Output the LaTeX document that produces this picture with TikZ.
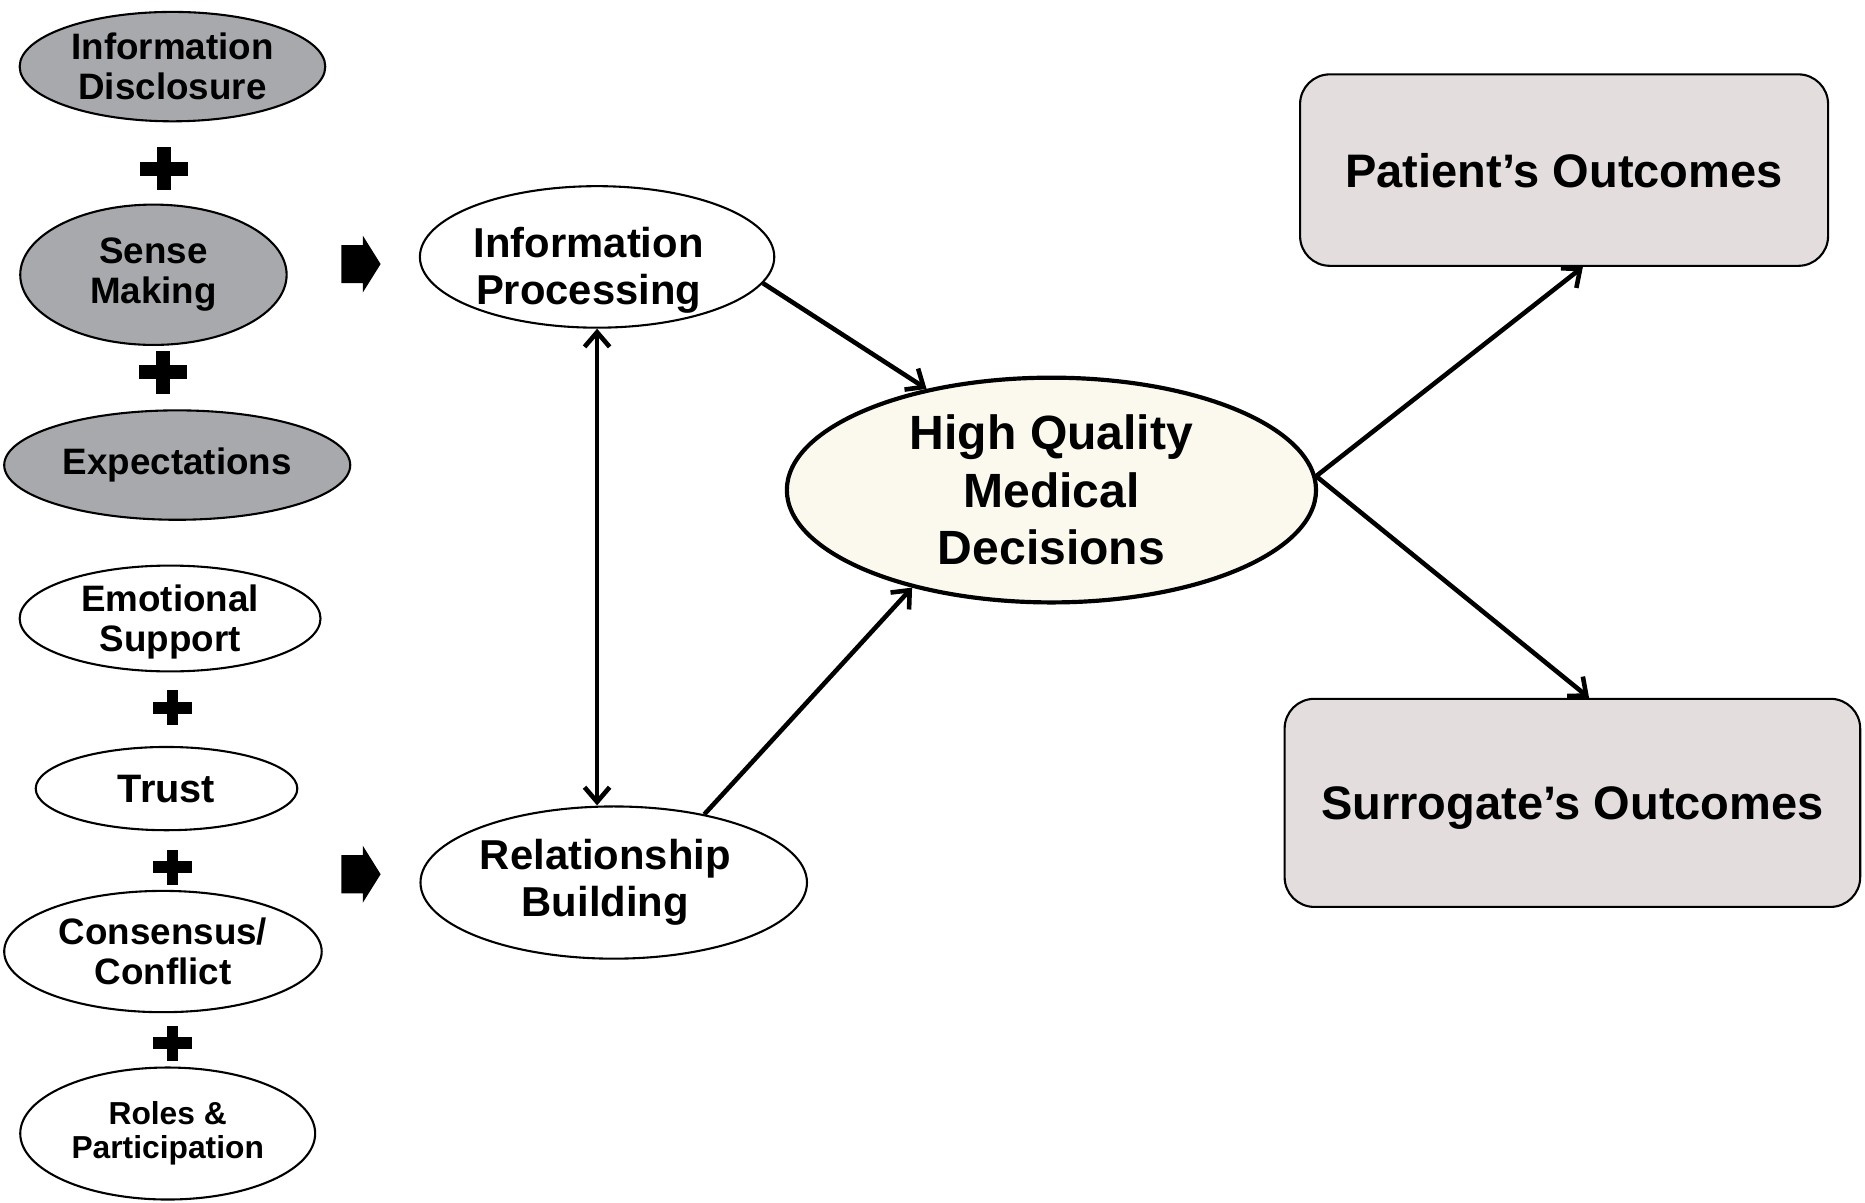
\documentclass[tikz,border=0pt]{standalone}
\usepackage{fontspec}
\setmainfont{Liberation Sans}
\usetikzlibrary{shapes.geometric,arrows.meta}

\definecolor{factorgray}{RGB}{167,169,172}
\definecolor{outcomefill}{RGB}{227,221,222}
\definecolor{decisionfill}{RGB}{251,249,237}

\tikzset{
    factor/.style={ellipse, draw=black, line width=1pt, inner sep=0pt, align=center,
        font=\bfseries\fontsize{17.6}{19}\selectfont},
    grayfactor/.style={factor, fill=factorgray},
    process/.style={ellipse, draw=black, line width=1pt, inner sep=0pt, align=center,
        font=\bfseries\fontsize{20}{22.5}\selectfont},
    decision/.style={ellipse, draw=black, line width=2pt, fill=decisionfill, inner sep=0pt,
        align=center, font=\bfseries\fontsize{23}{27.6}\selectfont},
    outcome/.style={rectangle, rounded corners=0.5cm, draw=black, line width=1pt,
        fill=outcomefill, font=\bfseries\fontsize{22.5}{27}\selectfont},
    conn/.style={line width=2.2pt, -{Straight Barb[length=7pt,width=12pt]}},
    biconn/.style={line width=2.2pt, {Straight Barb[length=7pt,width=12pt]}-{Straight Barb[length=7pt,width=12pt]}},
}

\begin{document}
\begin{tikzpicture}[x=0.02cm, y=-0.02cm]
    \useasboundingbox (0,0) rectangle (1568,1011);

    % information side
    \node [grayfactor, minimum width=5.14cm, minimum height=1.84cm] (infodisc) at (145,56) {Information\\Disclosure};
    \node [grayfactor, minimum width=4.48cm, minimum height=2.36cm] (sensemaking) at (129,231) {Sense\\Making};
    \node [grayfactor, minimum width=5.82cm, minimum height=1.84cm] (expect) at (149,391) {Expectations};

    % relationship side
    \node [factor, minimum width=5.06cm, minimum height=1.78cm, text depth=-1pt] (emotional) at (143,520) {Emotional\\Support};
    \node [factor, minimum width=4.4cm, minimum height=1.4cm, font=\bfseries\fontsize{19}{21}\selectfont] (trust) at (140,663) {Trust};
    \node [factor, minimum width=5.34cm, minimum height=2.04cm] (consensus) at (137,800) {Consensus/\\Conflict};
    \node [factor, minimum width=4.96cm, minimum height=2.22cm, font=\bfseries\fontsize{15.2}{16.5}\selectfont] (roles) at (141,953) {Roles \&\\Participation};

    \foreach \px/\py/\ps in {138/142/1, 137/313/1, 145/595/0.82, 145/729/0.82, 145/877/0.82} {
        \fill (\px-20*\ps,\py-6*\ps) rectangle (\px+20*\ps,\py+6*\ps);
        \fill (\px-6*\ps,\py-18*\ps) rectangle (\px+6*\ps,\py+18*\ps);
    }
    \foreach \ay in {222,735} {
        \fill (287,\ay-16) -- (305,\ay-16) -- (305,\ay-24) -- (320,\ay) -- (305,\ay+24) -- (305,\ay+16) -- (287,\ay+16) -- cycle;
    }

    \node [process, minimum width=5.96cm, minimum height=2.38cm] (infoproc) at (502,216)
        {\raisebox{-7pt}[\height][\depth]{\begin{tabular}{@{}c@{\hspace{8pt}}}Information\\Processing\end{tabular}}};
    \node [process, minimum width=6.5cm, minimum height=2.56cm] (relbuild) at (516,742) {Relationship\hspace*{8pt}\\Building\hspace*{8pt}};
    \node [decision, minimum width=8.9cm, minimum height=3.78cm] (hq) at (884,412) {High Quality\\Medical\\Decisions};

    \node [outcome, minimum width=8.88cm, minimum height=3.22cm, text depth=-2.3pt] (patient) at (1315,143) {Patient’s Outcomes};
    \node [outcome, minimum width=9.68cm, minimum height=3.5cm, text depth=-2.1pt] (surrogate) at (1322,675) {Surrogate’s Outcomes};

    \draw [biconn] (infoproc.south) -- (infoproc.south |- relbuild.north);
    \draw [conn] (infoproc.-9) -- (hq.141);
    \draw [conn] (relbuild.37) -- (hq.215);
    \draw [conn] (hq.3) -- (patient.-79);
    \draw [conn] (hq.3) -- (surrogate.81);
\end{tikzpicture}
\end{document}
